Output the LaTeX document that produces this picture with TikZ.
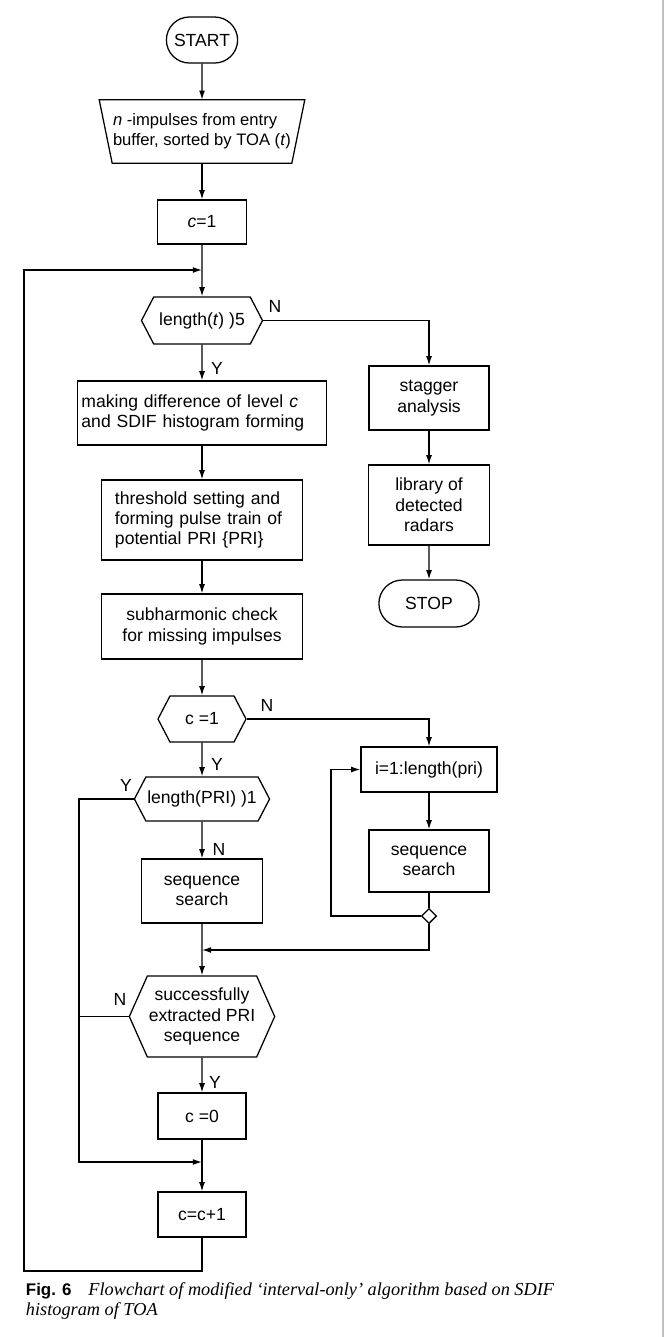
\documentclass[tikz,border=0pt]{standalone}
\usepackage{fontspec}
\setmainfont{Liberation Sans}
\newfontfamily\capfont{Liberation Serif}
\usepackage{tikz}
\usetikzlibrary{shapes.geometric, shapes.misc, shapes.symbols, arrows.meta, positioning, calc}
\tikzset{
  box/.style={rectangle, draw, line width=0.9pt, align=center, inner sep=2pt},
  term/.style={rounded rectangle, draw, line width=0.9pt,
    minimum width=1.85cm, minimum height=1.15cm, inner sep=1pt},
  decision/.style={signal, signal to=east and west, signal pointer angle=125,
    draw, line width=0.9pt, align=center, inner xsep=1pt, inner ysep=2pt},
  inbox/.style={rectangle, align=left, minimum width=5.125cm, minimum height=1.575cm},
  joint/.style={diamond, draw, line width=0.9pt, minimum size=0.38cm, inner sep=0pt},
  arrow/.style={-{Latex[length=6.5pt,width=4.2pt]}, line width=0.9pt},
  line/.style={line width=0.9pt}
}

\begin{document}
\begin{tikzpicture}[x=0.025cm, y=-0.025cm, every node/.style={font=\fontsize{12.5}{14.5}\selectfont}]
  \useasboundingbox (0,0) rectangle (668,1337);
  \draw[black!25, line width=1.2pt] (663,0) -- (663,1337);

  % main column
  \node[term] (start) at (202, 40) {START};
  \node[inbox, font=\fontsize{11.8}{14.5}\selectfont] (input) at (202, 131.5) {\textit{n} -impulses from entry\\buffer, sorted by TOA (\textit{t})};
  \draw[line] (input.north west) -- (input.north east) -- ($(input.south east)+(-13,0)$)
    -- ($(input.south west)+(13,0)$) -- cycle;
  \node[box, minimum width=2.225cm, minimum height=1.1cm] (c1) at (202, 222) {\textit{c}=1};
  \node[decision, minimum width=3.025cm, minimum height=1.175cm] (len) at (202, 320.5) {length(\textit{t}) )5};
  \node[box, text width=6.025cm, inner xsep=0.1cm, align=left, minimum height=1.6cm] (diff) at (202, 413) {making difference of level \textit{c}\\and SDIF histogram forming};
  \node[box, text width=4.35cm, inner xsep=0.34cm, align=left, minimum height=2cm] (thresh) at (202, 520) {threshold setting and\\forming pulse train of\\potential PRI \{PRI\}};
  \node[box, minimum width=5.025cm, minimum height=1.625cm] (subh) at (202, 626.5) {subharmonic check\\for missing impulses};
  \node[decision, minimum width=2.2cm, minimum height=1.15cm] (isone) at (202, 719) {c =1};
  \node[decision, minimum width=3.05cm, minimum height=1.1cm] (lenpri) at (202, 799) {length(PRI) )1};
  \node[box, minimum width=3.025cm, minimum height=1.6cm] (seqa) at (202, 891) {sequence\\search};
  \node[decision, minimum width=3.45cm, minimum height=2.025cm, signal pointer angle=132] (succ) at (202, 1016.5) {successfully\\extracted PRI\\sequence};
  \node[box, minimum width=2.2cm, minimum height=1.15cm] (cz) at (202, 1116) {c =0};
  \node[box, minimum width=2.2cm, minimum height=1.125cm] (inc) at (202, 1214.5) {c=c+1};

  % right column
  \node[box, minimum width=3cm, minimum height=1.6cm] (stagger) at (429, 398) {stagger\\analysis};
  \node[box, minimum width=3.025cm, minimum height=2cm] (lib) at (429, 505) {library of\\detected\\radars};
  \node[term, minimum width=2.575cm, minimum height=1.175cm] (stop) at (429, 603.5) {STOP};
  \node[box, minimum width=3.4cm, minimum height=1.125cm] (forloop) at (429, 769.5) {i=1:length(pri)};
  \node[box, minimum width=3cm, minimum height=1.55cm] (seqb) at (429, 861) {sequence\\search};
  \node[joint] (dia) at (429, 916) {};

  % branch labels
  \node (n1) at (275, 306) {N};
  \node (y1) at (217, 368) {Y};
  \node (n2) at (267, 705) {N};
  \node (y2) at (217, 764) {Y};
  \node (y3) at (126, 785) {Y};
  \node (n3) at (219, 849) {N};
  \node (n4) at (120, 999) {N};
  \node (y4) at (215, 1082) {Y};

  % joins
  \coordinate (j1) at (202, 270);
  \coordinate (j2) at (202, 950);
  \coordinate (j3) at (202, 1162);
  \coordinate (bx) at (79, 1162);
  \coordinate (rx) at (331, 769.5);
  \coordinate (ob) at (24, 1271);

  % Paths
  \draw[arrow] (start) -- (input);
  \draw[arrow] (input) -- (c1);
  \draw[arrow] (c1) -- (len);
  \draw[arrow] (len) -- (diff);
  \draw[arrow] (diff) -- (thresh);
  \draw[arrow] (thresh) -- (subh);
  \draw[arrow] (subh) -- (isone);
  \draw[arrow] (isone) -- (lenpri);
  \draw[arrow] (lenpri) -- (seqa);
  \draw[arrow] (seqa) -- (succ);
  \draw[arrow] (succ) -- (cz);
  \draw[arrow] (cz) -- (inc);

  % stagger branch
  \draw[arrow] (len.east) -| (stagger);
  \draw[arrow] (stagger) -- (lib);
  \draw[arrow] (lib) -- (stop);

  % loop over pri
  \draw[arrow] (isone.east) -| (forloop);
  \draw[arrow] (forloop) -- (seqb);
  \draw[line] (seqb) -- (dia);
  \draw[arrow] (dia.west) -| (rx) -- (forloop.west);
  \draw[arrow] (dia.south) |- (j2);

  % bypass and outer loop
  \draw[arrow] (lenpri.west) -| (bx) -- (j3);
  \draw[line] (succ.west) -- (succ.west -| bx);
  \draw[arrow] (inc.south) |- (ob) |- (j1);

  % caption
  \node[anchor=north west, align=left, font=\fontsize{13}{14.2}\selectfont] (cap) at (21, 1278)
    {{\fontsize{12}{14}\selectfont\bfseries Fig. 6}\hspace{12pt}{\capfont\itshape Flowchart of modified ‘interval-only’ algorithm based on SDIF}\\{\capfont\itshape histogram of TOA}};
\end{tikzpicture}
\end{document}
